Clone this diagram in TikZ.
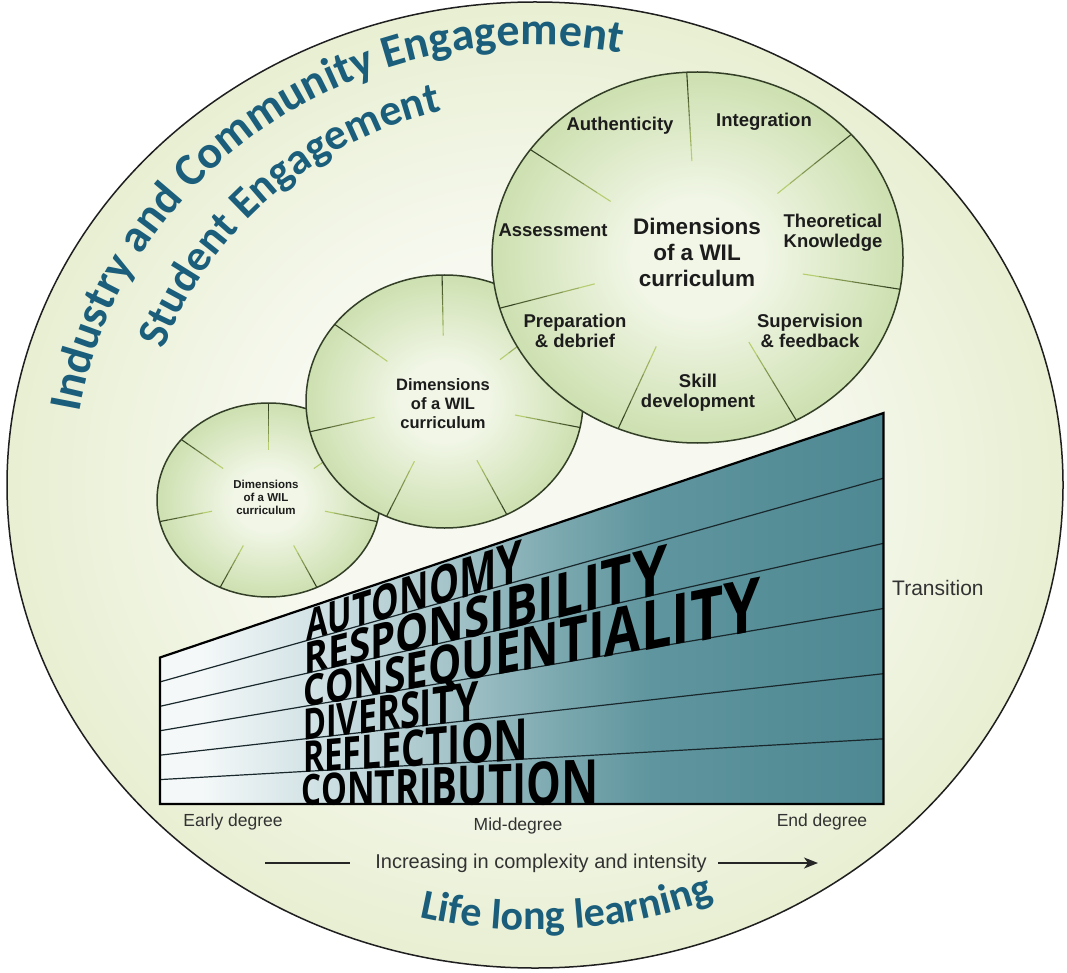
\documentclass[tikz,border=0pt]{standalone}
\usepackage{fontspec}
\setmainfont{Liberation Sans}
\newfontfamily\arcfont{Carlito}
\newfontfamily\wordfont{Open Sans}
\usetikzlibrary{shapes.geometric,decorations.text,arrows.meta,calc}

\definecolor{ringIn}{RGB}{247,249,240}
\definecolor{ringOut}{RGB}{232,239,210}
\definecolor{discIn}{RGB}{241,246,230}
\definecolor{discOut}{RGB}{205,224,176}
\definecolor{discEdge}{RGB}{50,62,38}
\definecolor{spokeDark}{RGB}{52,66,34}
\definecolor{spokeLight}{RGB}{196,222,120}
\definecolor{arcBlue}{RGB}{26,94,124}
\definecolor{labelInk}{RGB}{28,28,28}
\definecolor{greyInk}{RGB}{50,50,50}
\definecolor{trA}{RGB}{244,248,248}
\definecolor{trB}{RGB}{214,229,232}
\definecolor{trC}{RGB}{164,196,201}
\definecolor{trD}{RGB}{126,170,177}
\definecolor{trE}{RGB}{95,149,158}
\definecolor{trF}{RGB}{78,136,146}
\definecolor{bandLine}{RGB}{25,40,44}

\pgfdeclareradialshading{ringshade}{\pgfpoint{0bp}{0bp}}{color(0bp)=(ringIn); color(12bp)=(ringIn); color(25bp)=(ringOut); color(50bp)=(ringOut)}
\pgfdeclareradialshading{discshade}{\pgfpoint{0bp}{0bp}}{color(0bp)=(discIn); color(8bp)=(discIn); color(25bp)=(discOut); color(50bp)=(discOut)}
\pgfdeclarehorizontalshading{rampshade}{100bp}{color(0bp)=(trA); color(25bp)=(trA); color(27.8bp)=(trA); color(34.7bp)=(trB); color(45bp)=(trC); color(52bp)=(trD); color(58.9bp)=(trE); color(75bp)=(trF); color(100bp)=(trF)}

% letter widths of the ramp font, measured once
\newlength\pwlen
\newcounter{pwcount}
\newcommand\pwsetfont{\wordfont\bfseries\fontsize{20}{20}\selectfont}
\def\pwcap{14.28}
\newcommand\measureletter[1]{%
  \settowidth\pwlen{\pwsetfont #1}%
  \ifdim\pwlen<1pt \pwlen=13pt \fi
  \expandafter\xdef\csname pww#1\endcsname{\the\pwlen}}

% perspective lettering inside the fan of bands
\newcommand\perspword[4]{%
  % #1 band index, #2 left x, #3 right x, #4 letters
  \xdef\pwtot{0}%
  \foreach \ch in {#4}{%
    \edef\pwcur{\csname pww\ch\endcsname}%
    \pgfmathsetmacro\pwt{\pwtot+\pwcur}%
    \xdef\pwtot{\pwt}%
  }%
  \xdef\pwcum{0}%
  \pgfmathsetmacro\pwr{(#3+273.5)/(#2+273.5)}%
  \pgfmathsetmacro\pwsm{(391-65.17*#1-32.585)/1157}%
  \foreach \ch in {#4}{%
    \stepcounter{pwcount}%
    \edef\pwcur{\csname pww\ch\endcsname}%
    \pgfmathsetmacro\pwxa{-273.5+(#2+273.5)*pow(\pwr,\pwcum/\pwtot)}%
    \pgfmathsetmacro\pwnext{\pwcum+\pwcur}%
    \pgfmathsetmacro\pwxb{-273.5+(#2+273.5)*pow(\pwr,\pwnext/\pwtot)}%
    \pgfmathsetmacro\pwxm{(\pwxa+\pwxb)/2}%
    \pgfmathsetmacro\pwh{0.056327*(\pwxm+273.5)}%
    \pgfmathsetmacro\pwH{0.93*\pwh}%
    \pgfmathsetmacro\pwyc{804-\pwsm*(\pwxm+273.5)+0.06*\pwh}%
    \pgfmathsetmacro\pwyb{\pwyc+\pwH/2+\pwsm*(\pwxm-\pwxa)}%
    \pgfmathsetmacro\pwxs{(\pwxb-\pwxa)/\pwcur}%
    \pgfmathsetmacro\pwys{\pwH/\pwcap}%
    \begin{scope}[shift={(\pwxa,\pwyb)}, yslant=\pwsm, xscale=\pwxs, yscale=\pwys]
      \node[transform shape, anchor=base west, inner sep=0pt, font=\pwsetfont] (letter\arabic{pwcount}) at (0,0) {\ch};
    \end{scope}
    \xdef\pwcum{\pwnext}%
  }%
}

% seven fading spokes of a disc node
\newcommand\discspokes[4]{%
  % #1 node name, #2 x radius, #3 y radius, #4 angle of the first spoke
  \foreach \k in {0,...,6}{%
    \pgfmathsetmacro\ang{#4+\k*360/7}%
    \foreach \j in {0,...,5}{%
      \pgfmathsetmacro\ax{(1-0.08*\j)*#2*cos(\ang)}%
      \pgfmathsetmacro\ay{(1-0.08*\j)*#3*sin(\ang)}%
      \pgfmathsetmacro\bx{(0.92-0.08*\j)*#2*cos(\ang)}%
      \pgfmathsetmacro\by{(0.92-0.08*\j)*#3*sin(\ang)}%
      \pgfmathtruncatemacro\mx{100-18*\j}%
      \draw[line width=1.1pt, spokeDark!\mx!spokeLight]
        ($(#1.center)+(\ax,\ay)$) -- ($(#1.center)+(\bx,\by)$);
    }%
  }%
}

\tikzset{
  disc/.style={ellipse, inner sep=0pt, draw=discEdge, line width=1.5pt, shade, shading=discshade},
  rimlabel/.style={font=\bfseries\fontsize{18.5}{20}\selectfont, text=labelInk, align=center, inner sep=0pt},
  hublabel/.style n args={2}{font=\bfseries\fontsize{#1}{#2}\selectfont, text=labelInk, align=center, inner sep=0pt},
  stage/.style={font=\fontsize{17.5}{20}\selectfont, text=greyInk, inner sep=0pt},
}

\begin{document}
\measureletter{A}\measureletter{B}\measureletter{C}\measureletter{D}\measureletter{E}%
\measureletter{F}\measureletter{I}\measureletter{L}\measureletter{M}\measureletter{N}%
\measureletter{O}\measureletter{P}\measureletter{Q}\measureletter{R}\measureletter{S}%
\measureletter{T}\measureletter{U}\measureletter{V}\measureletter{Y}%
\begin{tikzpicture}[x=1pt, y=-1pt]
\useasboundingbox (0,0) rectangle (1067,973);
\fill[white] (0,0) rectangle (1067,973);

% outer ring
\node[ellipse, inner sep=0pt, minimum width=1056, minimum height=966, shade, shading=ringshade,
      draw=black!88, line width=1.5pt] (ring) at (535,485) {};

% text along the ring
\path[decorate, decoration={text along path, text align=center, text color=arcBlue,
      text={|\arcfont\bfseries\fontsize{46}{46}\selectfont|Industry and Community Engagement}}]
  (535,485) ++(149:462 and 440) arc[start angle=149, end angle=320, x radius=462, y radius=440];
\path[decorate, decoration={text along path, text align=center, text color=arcBlue,
      text={|\arcfont\bfseries\fontsize{44}{44}\selectfont|Student Engagement}}]
  (535,485) ++(160:397 and 385) arc[start angle=160, end angle=296, x radius=397, y radius=385];
\path[decorate, decoration={text along path, text align=center, text color=arcBlue,
      text={|\arcfont\bfseries\fontsize{42}{42}\selectfont|Life long learning}}]
  (535,485) ++(126:485 and 445) arc[start angle=126, end angle=46, x radius=485, y radius=445];

% small disc
\node[disc, minimum width=223, minimum height=194] (small) at (268.5,500) {};
\discspokes{small}{111.5}{97}{270}
\node[hublabel={11.5}{13}] (smalltxt) at (266,497) {Dimensions\\of a WIL\\curriculum};

% medium disc
\node[disc, minimum width=277, minimum height=253] (mid) at (444.5,401.5) {};
\discspokes{mid}{138.5}{126.5}{269}
\node[hublabel={16.5}{19}] (midtxt) at (443,404) {Dimensions\\of a WIL\\curriculum};

% large disc
\node[disc, minimum width=411, minimum height=371] (big) at (697.5,257.5) {};
\discspokes{big}{205.5}{185.5}{267}
\node[hublabel={22.5}{26}] (bigtxt) at (697,252) {Dimensions\\of a WIL\\curriculum};
\node[rimlabel] (auth)  at (620,126) {Authenticity};
\node[rimlabel] (integ) at (764,122) {Integration};
\node[rimlabel] (assess) at (553,230) {Assessment};
\node[rimlabel] (theory) at (833,233) {Theoretical\\Knowledge};
\node[rimlabel] (prep)  at (575,331) {Preparation\\\& debrief};
\node[rimlabel] (superv) at (810,331) {Supervision\\\& feedback};
\node[rimlabel] (skill) at (698,393) {Skill\\development};

% perspective ramp
\coordinate (rampTL) at (160,657.5);
\coordinate (rampTR) at (883.5,413);
\coordinate (rampBR) at (883.5,804);
\coordinate (rampBL) at (160,804);
\shade[shading=rampshade] (rampTL) -- (rampTR) -- (rampBR) -- (rampBL) -- cycle;
\foreach \i in {1,...,5}{
  \coordinate (bandL\i) at (160,657.5+24.417*\i);
  \coordinate (bandR\i) at (883.5,413+65.167*\i);
  \draw[bandLine, line width=1.2pt] (bandL\i) -- (bandR\i);
}
\perspword{0}{306}{522}{A,U,T,O,N,O,M,Y}
\perspword{1}{304}{667}{R,E,S,P,O,N,S,I,B,I,L,I,T,Y}
\perspword{2}{303}{760}{C,O,N,S,E,Q,U,E,N,T,I,A,L,I,T,Y}
\perspword{3}{303}{478}{D,I,V,E,R,S,I,T,Y}
\perspword{4}{303}{528}{R,E,F,L,E,C,T,I,O,N}
\perspword{5}{301}{598}{C,O,N,T,R,I,B,U,T,I,O,N}
\draw[black, line width=2.2pt, line join=miter] (rampTL) -- (rampTR) -- (rampBR) -- (rampBL) -- cycle;

\node[font=\fontsize{21}{24}\selectfont, text=greyInk, anchor=west, inner sep=0pt] (trans) at (892,588) {Transition};

% stages along the bottom
\node[stage] (early) at (233,822) {Early degree};
\node[stage] (middeg) at (518,826) {Mid-degree};
\node[stage] (endd) at (822,822) {End degree};
\node[font=\fontsize{20}{24}\selectfont, text=greyInk, inner sep=0pt] (incr) at (541,863) {Increasing in complexity and intensity};
\coordinate (arrowA1) at (265,863);
\coordinate (arrowA2) at (350,863);
\coordinate (arrowB1) at (718,863);
\coordinate (arrowB2) at (818,863);
\draw[black!85, line width=1.5pt] (arrowA1) -- (arrowA2);
\draw[black!85, line width=1.5pt, -{Stealth[length=14pt, width=11pt, inset=4pt]}] (arrowB1) -- (arrowB2);
\end{tikzpicture}
\end{document}
